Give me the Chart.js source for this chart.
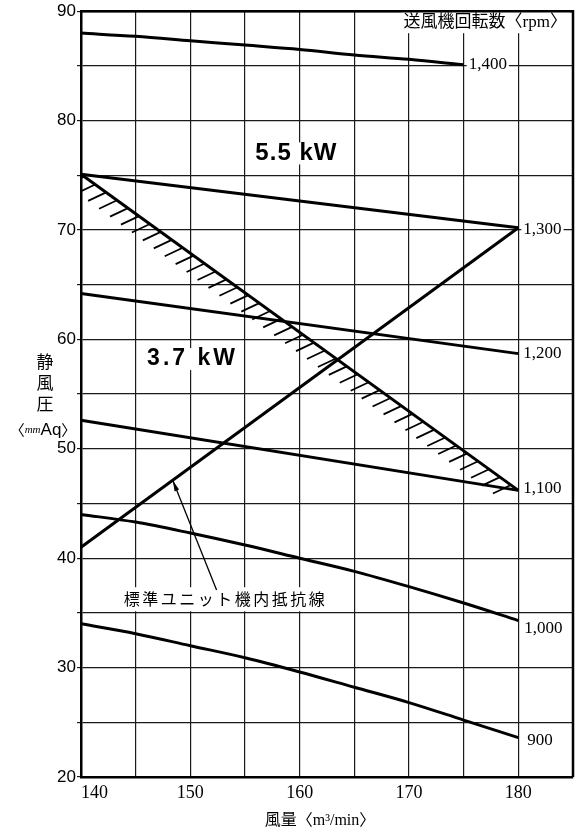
<!DOCTYPE html>
<html lang="ja">
<head>
<meta charset="UTF-8">
<title>送風機特性曲線</title>
<script src="https://cdn.jsdelivr.net/npm/chart.js"></script>
<style>
  html, body { margin: 0; padding: 0; background: #fff; }
  .wrap { width: 583px; height: 835px; }
</style>
</head>
<body>
<div class="wrap"><canvas id="fanChart" width="583" height="835"></canvas></div>
<script>
// 風量 (m3/min)
const flowGrid = [140, 145, 150, 155, 160, 165, 170, 175, 180];
const flow1400 = [140, 145, 150, 155, 160, 165, 170, 175];
const flowEnds = [140, 180];

// 静風圧 (mmAq) per fan speed
const p1400 = [88.0, 87.7, 87.3, 86.9, 86.5, 86.0, 85.6, 85.1];
const p1300 = [75.1, 70.2];
const p1200 = [64.2, 58.7];
const p1100 = [52.6, 46.2];
const p1000 = [44.0, 43.3, 42.3, 41.2, 40.0, 38.8, 37.4, 35.9, 34.3];
const p900  = [34.0, 33.1, 32.0, 30.9, 29.6, 28.2, 26.8, 25.2, 23.6];

// 5.5kW limit (hatched side = 3.7kW) and unit internal resistance
const limit55 = [75.1, 46.2];
const resistance = [41.0, 70.2];

const rpmLabels = ['1,400', '1,300', '1,200', '1,100', '1,000', '900'];
const xTicks = [140, 150, 160, 170, 180];
const yTicks = [20, 30, 40, 50, 60, 70, 80, 90];

const CJK = '"Noto Sans CJK JP"';

function pts(xs, ys) {
    return xs.map((v, i) => ({ x: v, y: ys[i] }));
}

function curve(xs, ys, smooth) {
    return {
        data: pts(xs, ys),
        borderColor: '#000',
        borderWidth: 3,
        pointRadius: 0,
        tension: smooth ? 0.4 : 0,
        cubicInterpolationMode: smooth ? 'monotone' : 'default',
        clip: false
    };
}

// text with a white box behind it, so the grid is cut like in the print
function boxText(ctx, text, px, py, font, size, align, pad) {
    ctx.font = font;
    const w = ctx.measureText(text).width;
    let left = px;
    if (align === 'center') left = px - w / 2;
    if (align === 'right') left = px - w;
    ctx.fillStyle = '#fff';
    ctx.fillRect(left - pad, py - size / 2 - pad, w + pad * 2, size + pad * 2);
    ctx.fillStyle = '#000';
    ctx.textAlign = 'left';
    ctx.textBaseline = 'middle';
    ctx.fillText(text, left, py);
}

const notes = {
    id: 'notes',
    beforeDatasetsDraw(chart) {
        const { ctx, chartArea: a, scales: { x, y } } = chart;
        ctx.save();

        // hatching under the 5.5kW line
        const x0 = x.getPixelForValue(flowEnds[0]), y0 = y.getPixelForValue(limit55[0]);
        const x1 = x.getPixelForValue(flowEnds[1]), y1 = y.getPixelForValue(limit55[1]);
        const len = Math.hypot(x1 - x0, y1 - y0);
        ctx.save();
        ctx.beginPath();
        ctx.rect(a.left, a.top, a.right - a.left, a.bottom - a.top);
        ctx.clip();
        ctx.strokeStyle = '#000';
        ctx.lineWidth = 1.8;
        for (let d = 4; d < len - 8; d += 13.5) {
            const t = d / len;
            const px = x0 + (x1 - x0) * t, py = y0 + (y1 - y0) * t;
            ctx.beginPath();
            ctx.moveTo(px, py);
            ctx.lineTo(px - 18, py + 8.5);
            ctx.stroke();
        }
        ctx.restore();

        // motor labels
        ctx.letterSpacing = '1px';
        boxText(ctx, '5.5 kW', x.getPixelForValue(159.7), y.getPixelForValue(77.0),
            'bold 24px "Liberation Sans", Arial, sans-serif', 18, 'center', 2);
        ctx.letterSpacing = '3px';
        boxText(ctx, '3.7 kW', x.getPixelForValue(150.2), y.getPixelForValue(58.2),
            'bold 23px "Liberation Sans", Arial, sans-serif', 18, 'center', 2);
        ctx.letterSpacing = '2.5px';
        boxText(ctx, '標準ユニット機内抵抗線', x.getPixelForValue(143.9), y.getPixelForValue(36.25),
            '16px ' + CJK, 18, 'left', 3);
        ctx.letterSpacing = '0px';

        // rpm labels at the curve ends
        const sets = chart.data.datasets;
        const dy = [0, 2, 0, -2, 8, 3];
        const dx = [5, 5, 5, 5, 6, 9];
        for (let i = 0; i < rpmLabels.length; i++) {
            const last = sets[i].data[sets[i].data.length - 1];
            boxText(ctx, rpmLabels[i], x.getPixelForValue(last.x) + dx[i], y.getPixelForValue(last.y) + dy[i],
                '17px "Liberation Serif", serif', 14, 'left', 2);
        }

        // title box top right
        boxText(ctx, '送風機回転数〈rpm〉', a.right - 6, a.top + 11,
            '17px "Liberation Serif", ' + CJK, 18, 'right', 2);
        ctx.restore();
    },
    afterDatasetsDraw(chart) {
        const { ctx, scales: { x, y } } = chart;
        ctx.save();
        // arrow pointing at the resistance line
        const tx = x.getPixelForValue(148.4), ty = y.getPixelForValue(47.1);
        const sx = x.getPixelForValue(152.4), sy = y.getPixelForValue(37.1);
        ctx.strokeStyle = '#000';
        ctx.fillStyle = '#000';
        ctx.lineWidth = 1.3;
        ctx.beginPath();
        ctx.moveTo(sx, sy);
        ctx.lineTo(tx, ty);
        ctx.stroke();
        const ang = Math.atan2(ty - sy, tx - sx);
        ctx.beginPath();
        ctx.moveTo(tx, ty);
        ctx.lineTo(tx - 11 * Math.cos(ang - 0.22), ty - 11 * Math.sin(ang - 0.22));
        ctx.lineTo(tx - 11 * Math.cos(ang + 0.22), ty - 11 * Math.sin(ang + 0.22));
        ctx.closePath();
        ctx.fill();
        ctx.restore();
    },
    afterDraw(chart) {
        const { ctx, chartArea: a } = chart;
        ctx.save();
        // frame top and right
        ctx.strokeStyle = '#000';
        ctx.lineWidth = 2.5;
        ctx.beginPath();
        ctx.moveTo(a.left, a.top);
        ctx.lineTo(a.right, a.top);
        ctx.lineTo(a.right, a.bottom);
        ctx.stroke();

        ctx.fillStyle = '#000';
        ctx.textAlign = 'center';
        ctx.textBaseline = 'middle';

        // y title, stacked
        ctx.font = '17px ' + CJK;
        ['静', '風', '圧'].forEach((c, i) => ctx.fillText(c, 45, 362 + i * 21));
        const parts = [
            ['〈', '15px ' + CJK],
            ['mm', 'italic 11px "Liberation Serif", serif'],
            ['Aq', '17px "Liberation Sans", Arial, sans-serif'],
            ['〉', '15px ' + CJK]
        ];
        let total = 0;
        parts.forEach(p => { ctx.font = p[1]; total += ctx.measureText(p[0]).width; });
        let cx = 43 - total / 2;
        ctx.textAlign = 'left';
        parts.forEach(p => {
            ctx.font = p[1];
            ctx.fillText(p[0], cx, 430);
            cx += ctx.measureText(p[0]).width;
        });

        // x title
        ctx.textAlign = 'center';
        ctx.font = '16px "Liberation Serif", ' + CJK;
        ctx.fillText('風量〈m³/min〉', 320, 821);
        ctx.restore();
    }
};

new Chart(document.getElementById('fanChart'), {
    type: 'line',
    data: {
        datasets: [
            curve(flow1400, p1400, true),
            curve(flowEnds, p1300, false),
            curve(flowEnds, p1200, false),
            curve(flowEnds, p1100, false),
            curve(flowGrid, p1000, true),
            curve(flowGrid, p900, true),
            curve(flowEnds, limit55, false),
            curve(flowEnds, resistance, false)
        ]
    },
    options: {
        responsive: false,
        animation: false,
        devicePixelRatio: 1,
        events: [],
        layout: { padding: { left: 0, right: 10, top: 10, bottom: 0 } },
        plugins: { legend: { display: false }, tooltip: { enabled: false } },
        scales: {
            x: {
                type: 'linear',
                min: 140,
                max: 185,
                afterFit: s => { s.height = 58; },
                ticks: {
                    stepSize: 5,
                    autoSkip: false,
                    maxRotation: 0,
                    align: 'inner',
                    padding: 5,
                    color: '#000',
                    font: { family: '"Liberation Serif", serif', size: 18 },
                    callback: v => xTicks.includes(v) ? String(v) : ''
                },
                grid: { color: '#1a1a1a', lineWidth: 1.2, drawTicks: false },
                border: { color: '#000', width: 2.5 }
            },
            y: {
                min: 20,
                max: 90,
                afterFit: s => { s.width = 81; },
                ticks: {
                    stepSize: 5,
                    autoSkip: false,
                    padding: 1,
                    color: '#000',
                    font: { family: '"Liberation Sans", Arial, sans-serif', size: 17 },
                    callback: v => yTicks.includes(v) ? String(v) : ''
                },
                grid: { color: '#1a1a1a', lineWidth: 1.2, tickLength: 4 },
                border: { color: '#000', width: 2.5 }
            }
        }
    },
    plugins: [notes]
});
</script>
</body>
</html>
